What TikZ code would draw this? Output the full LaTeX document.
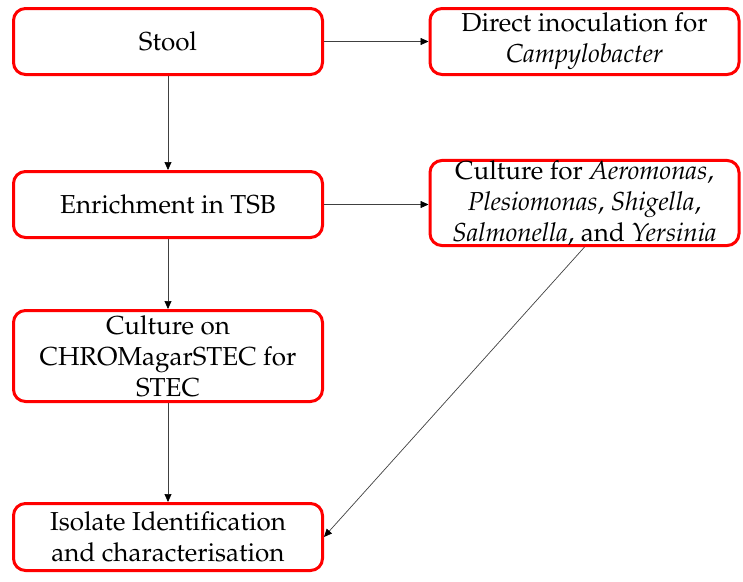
\documentclass[tikz,border=0pt]{standalone}
\usepackage[T1]{fontenc}
\usepackage{mathpazo}
\usetikzlibrary{arrows.meta}

\tikzset{
  flowbox/.style={draw=red, line width=3pt, rounded corners=12pt, fill=white,
    align=center, inner sep=0pt, minimum width=309pt,
    font=\fontsize{26}{31}\selectfont},
  link/.style={draw=black!75, line width=0.7pt,
    -{Triangle[length=8pt,width=7pt,fill=black,color=black]}}
}

\begin{document}
\begin{tikzpicture}[x=1pt,y=-1pt]
  \useasboundingbox (0,0) rectangle (743,581);

  % left column
  \node[flowbox, minimum height=66pt] (stool) at (168,41.5) {Stool};
  \node[flowbox, minimum height=66pt] (enrich) at (168,204.5) {Enrichment in TSB};
  \node[flowbox, minimum height=91pt] (chrom) at (168,356) {Culture on\\CHROMagarSTEC for\\STEC};
  \node[flowbox, minimum height=67pt] (isolate) at (168,537) {Isolate Identification\\and characterisation};

  % right column
  \node[flowbox, minimum height=66pt] (direct) at (584.5,41.5) {Direct inoculation for\\\textit{Campylobacter}};
  \node[flowbox, minimum height=85pt] (aero) at (584.5,203)
    {Culture for \textit{Aeromonas},\\\textit{Plesiomonas}, \textit{Shigella},\\\textit{Salmonella}, and \textit{Yersinia}};

  % connectors
  \draw[link] (stool.east) -- (direct.west);
  \draw[link] (stool.south) -- (enrich.north);
  \draw[link] (enrich.east) -- (enrich.east -| aero.west);
  \draw[link] (enrich.south) -- (chrom.north);
  \draw[link] (chrom.south) -- (isolate.north);
  \draw[link] (aero.south) -- (isolate.east);
\end{tikzpicture}
\end{document}
